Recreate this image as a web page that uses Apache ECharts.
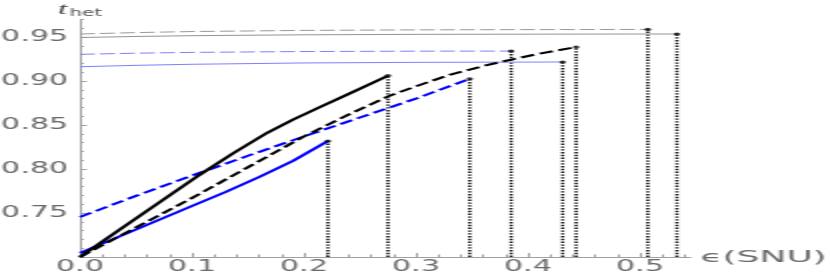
<!DOCTYPE html>
<html><head><meta charset="utf-8">
<script src="https://cdn.jsdelivr.net/npm/echarts/dist/echarts.min.js"></script>
<style>
html,body{margin:0;padding:0;background:#fff;overflow:hidden;width:830px;height:273px}
#wrap{width:830px;height:273px;overflow:hidden;position:relative}
#c{width:415px;height:273px;transform:scaleX(2);transform-origin:0 0;position:absolute;left:0;top:0}
</style></head><body><div id="wrap"><div id="c"></div></div>
<script>
// ---- data ----
const blackSolidX = [0, 0.04, 0.08, 0.107, 0.137, 0.167, 0.19, 0.212, 0.241, 0.275];
const blackSolidY = [0.700, 0.735, 0.770, 0.7935, 0.818, 0.841, 0.856, 0.869, 0.886, 0.906];

const blackDashX = [0, 0.05, 0.1, 0.15, 0.2, 0.24, 0.276, 0.30, 0.33, 0.36, 0.384, 0.41, 0.443];
const blackDashY = [0.700, 0.7335, 0.767, 0.802, 0.837, 0.862, 0.883, 0.894, 0.907, 0.917, 0.924, 0.931, 0.9386];

const blueSolidX = [0, 0.05, 0.1, 0.13, 0.16, 0.19, 0.2214];
const blueSolidY = [0.7045, 0.7312, 0.758, 0.7739, 0.7909, 0.8091, 0.8318];

const blueDashX = [0, 0.05, 0.1, 0.15, 0.2, 0.25, 0.3, 0.348];
const blueDashY = [0.7455, 0.7695, 0.7925, 0.815, 0.837, 0.8585, 0.880, 0.9025];

const graySolidX = [0, 0.05, 0.1, 0.2, 0.3, 0.4, 0.5, 0.533];
const graySolidY = [0.9494, 0.9506, 0.9515, 0.9525, 0.953, 0.9532, 0.9534, 0.9534];

const grayDashX = [0, 0.05, 0.1, 0.2, 0.3, 0.4, 0.507];
const grayDashY = [0.9534, 0.955, 0.9562, 0.9575, 0.9581, 0.9584, 0.9586];

const lightBlueSolidX = [0, 0.05, 0.1, 0.2, 0.3, 0.4, 0.431];
const lightBlueSolidY = [0.9162, 0.9178, 0.919, 0.9205, 0.9212, 0.9215, 0.9216];

const lightBlueDashX = [0, 0.05, 0.1, 0.2, 0.3, 0.385];
const lightBlueDashY = [0.9303, 0.9316, 0.9325, 0.9335, 0.9339, 0.934];

const xTickLabels = [0.0, 0.1, 0.2, 0.3, 0.4, 0.5];
const yTickLabels = [0.75, 0.80, 0.85, 0.90, 0.95];
const xMinorTicks = [0.02,0.04,0.06,0.08,0.12,0.14,0.16,0.18,0.22,0.24,0.26,0.28,0.32,0.34,0.36,0.38,0.42,0.44,0.46,0.48,0.52,0.54];
const yMinorTicks = [0.71,0.72,0.73,0.74,0.76,0.77,0.78,0.79,0.81,0.82,0.83,0.84,0.86,0.87,0.88,0.89,0.91,0.92,0.93,0.94,0.96,0.97];
const xAxisTitle = 'ϵ(SNU)';

const X_MIN = 0, X_MAX = 0.545, Y_MIN = 0.70, Y_MAX = 0.97;

// ---- styling ----
const FONT = 'DejaVu Sans';
const AXIS_COLOR = '#a0a0a0';
const LABEL_COLOR = '#6a6a6a';

const curves = [
  {x: graySolidX, y: graySolidY, color: '#959595', width: 1, type: 'solid'},
  {x: grayDashX, y: grayDashY, color: '#9a9a9a', width: 1, type: [7.5, 2.5]},
  {x: lightBlueSolidX, y: lightBlueSolidY, color: '#8080ff', width: 1, type: 'solid'},
  {x: lightBlueDashX, y: lightBlueDashY, color: '#8080ff', width: 1, type: [7.5, 2.5]},
  {x: blueSolidX, y: blueSolidY, color: '#0000ff', width: 2, type: 'solid'},
  {x: blueDashX, y: blueDashY, color: '#0000ff', width: 2, type: [7, 3]},
  {x: blackDashX, y: blackDashY, color: '#000000', width: 2, type: [7, 3]},
  {x: blackSolidX, y: blackSolidY, color: '#000000', width: 2.2, type: 'solid'}
];

const pairs = (xs, ys) => xs.map((v, i) => [v, ys[i]]);
const series = [];
curves.forEach(c => {
  const n = c.x.length - 1;
  series.push({
    type: 'line', data: [[c.x[n], Y_MIN], [c.x[n], c.y[n]]],
    symbol: 'none', silent: true, animation: false, z: 1,
    lineStyle: {color: '#000', width: 1.5, type: [1.4, 1.4]}
  });
});
curves.forEach(c => {
  series.push({
    type: 'line', data: pairs(c.x, c.y), symbol: 'none', smooth: false,
    silent: true, animation: false, z: 3,
    lineStyle: {color: c.color, width: c.width, type: c.type, join: 'round', cap: 'butt'}
  });
});
series.push({
  type: 'scatter', silent: true, animation: false, z: 4,
  data: curves.map(c => [c.x[c.x.length - 1], c.y[c.y.length - 1]]),
  symbol: 'circle', symbolSize: 3.2, itemStyle: {color: '#000'}
});

const chart = echarts.init(document.getElementById('c'), null, {renderer: 'canvas'});
chart.setOption({
  animation: false,
  backgroundColor: '#ffffff',
  grid: {left: 40, right: 415 - 40 - (X_MAX - X_MIN) * 560, top: 19.4, bottom: 16, containLabel: false, outerBoundsMode: 'none'},
  xAxis: [{
    type: 'value', min: X_MIN, max: X_MAX, position: 'bottom',
    axisLine: {show: true, onZero: false, lineStyle: {color: AXIS_COLOR, width: 1}},
    axisTick: {show: true, inside: true, length: 4, customValues: xTickLabels, lineStyle: {color: AXIS_COLOR}},
    axisLabel: {show: true, customValues: xTickLabels, formatter: v => Number(v).toFixed(1),
      color: LABEL_COLOR, fontSize: 15, fontFamily: FONT, margin: 3},
    splitLine: {show: false}, minorTick: {show: false}
  }, {
    type: 'value', min: X_MIN, max: X_MAX, position: 'bottom', gridIndex: 0,
    axisLine: {show: false, onZero: false},
    axisTick: {show: true, inside: true, length: 2.5, customValues: xMinorTicks, lineStyle: {color: AXIS_COLOR}},
    axisLabel: {show: false}, splitLine: {show: false}
  }],
  yAxis: [{
    type: 'value', min: Y_MIN, max: Y_MAX, position: 'left',
    axisLine: {show: true, onZero: false, lineStyle: {color: AXIS_COLOR, width: 1}},
    axisTick: {show: true, inside: true, length: 3.5, customValues: yTickLabels, lineStyle: {color: AXIS_COLOR}},
    axisLabel: {show: true, customValues: yTickLabels, formatter: v => Number(v).toFixed(2),
      color: LABEL_COLOR, fontSize: 15, fontFamily: FONT, margin: 6},
    splitLine: {show: false},
    name: '{t|t}{h|het}', nameLocation: 'end', nameGap: 1, nameMoveOverlap: false,
    nameTextStyle: {
      rich: {
        t: {fontFamily: 'Liberation Serif', fontStyle: 'italic', fontSize: 17, color: '#444', verticalAlign: 'bottom'},
        h: {fontFamily: FONT, fontSize: 10, color: '#555', padding: [6, 0, 0, 1], verticalAlign: 'bottom'}
      }
    }
  }, {
    type: 'value', min: Y_MIN, max: Y_MAX, position: 'left', gridIndex: 0,
    axisLine: {show: false, onZero: false},
    axisTick: {show: true, inside: true, length: 2, customValues: yMinorTicks, lineStyle: {color: AXIS_COLOR}},
    axisLabel: {show: false}, splitLine: {show: false}
  }],
  series: series
});

// x-axis title placed just after the end of the x axis
const endPt = chart.convertToPixel({xAxisIndex: 0, yAxisIndex: 0}, [X_MAX, Y_MIN]);
chart.setOption({
  graphic: [{
    type: 'text', x: endPt[0] + 5, y: endPt[1] + 1.5, scaleX: 1.2, silent: true,
    style: {text: xAxisTitle, fill: LABEL_COLOR, font: '15px "DejaVu Sans"', textAlign: 'left', textVerticalAlign: 'middle'}
  }]
});
</script></body></html>
